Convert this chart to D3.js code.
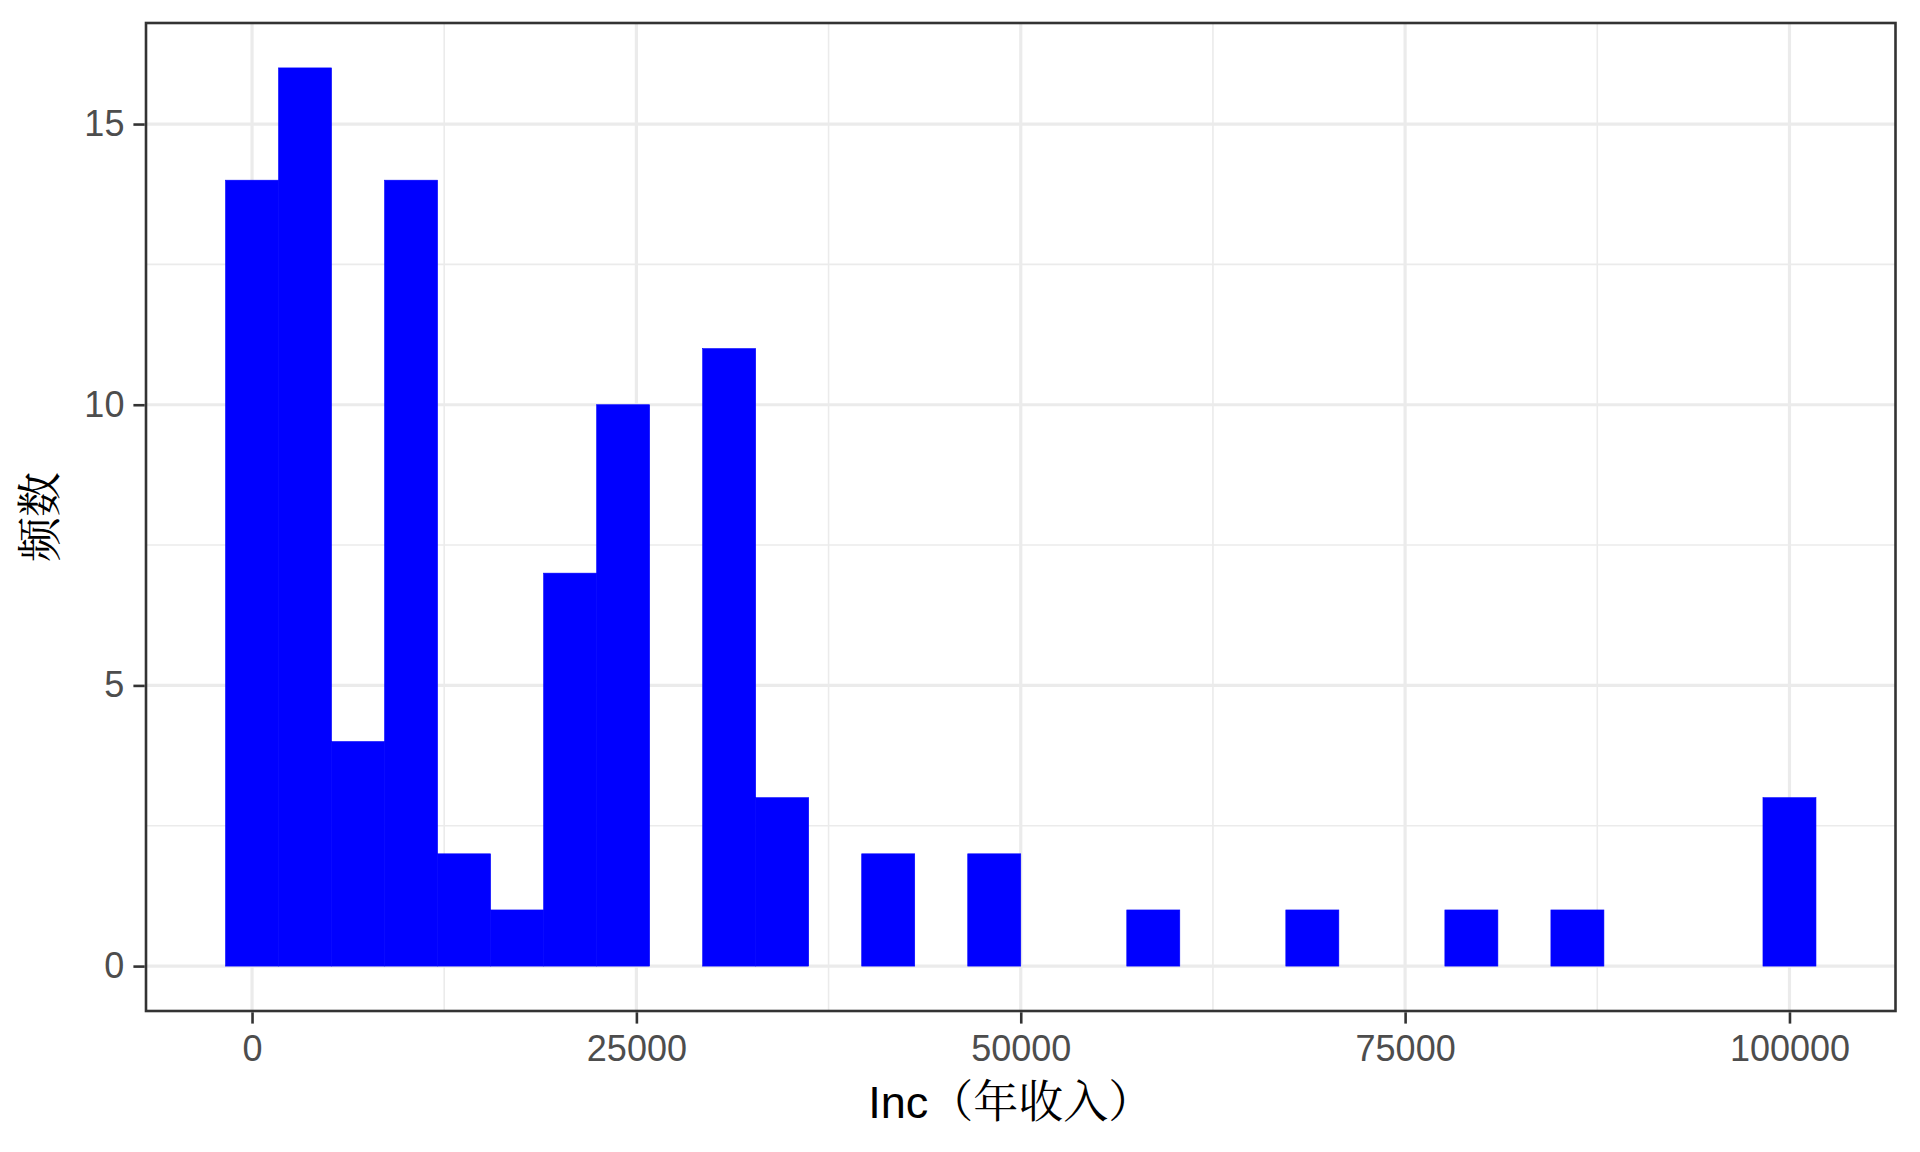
<!DOCTYPE html>
<html>
<head>
<meta charset="utf-8">
<script src="https://cdn.jsdelivr.net/npm/d3@7/dist/d3.min.js"></script>
<style>
  html, body { margin: 0; padding: 0; background: #fff; }
  svg { display: block; }
</style>
</head>
<body>
<svg id="chart" width="1920" height="1152"></svg>
<script>
// ---- data ----
const binMin = 0;          // centre of first bin
const binMax = 100000;     // centre of last bin
const counts = [14, 16, 4, 14, 2, 1, 7, 10, 0, 11, 3, 0, 2, 0, 2, 0, 0, 1, 0, 0, 1, 0, 0, 1, 0, 1, 0, 0, 0, 3];
const xTicks = [0, 25000, 50000, 75000, 100000];
const xMinor = [12500, 37500, 62500, 87500];
const yTicks = [0, 5, 10, 15];
const yMinor = [2.5, 7.5, 12.5];
const xTitle = "Inc（年收入）";
const yTitle = "频数";

// ---- layout ----
const W = 1920, H = 1152;
const panel = { left: 146, right: 1895.5, top: 23, bottom: 1011 };

const nb = counts.length;
const bw = (binMax - binMin) / (nb - 1);
const bins = counts.map((c, i) => ({ x0: binMin - bw / 2 + i * bw, x1: binMin + bw / 2 + i * bw, n: c }));

const xlo = bins[0].x0, xhi = bins[nb - 1].x1;
const xexp = (xhi - xlo) * 0.05;
const x = d3.scaleLinear().domain([xlo - xexp, xhi + xexp]).range([panel.left, panel.right]);
const ymax = d3.max(counts);
const yexp = ymax * 0.05;
const y = d3.scaleLinear().domain([-yexp, ymax + yexp]).range([panel.bottom, panel.top]);

const svg = d3.select("#chart");
svg.append("rect").attr("width", W).attr("height", H).attr("fill", "#fff");

const g = svg.append("g");
// minor grid
g.selectAll(".xm").data(xMinor).join("line")
  .attr("x1", d => x(d)).attr("x2", d => x(d)).attr("y1", panel.top).attr("y2", panel.bottom)
  .attr("stroke", "#EBEBEB").attr("stroke-width", 1.6);
g.selectAll(".ym").data(yMinor).join("line")
  .attr("y1", d => y(d)).attr("y2", d => y(d)).attr("x1", panel.left).attr("x2", panel.right)
  .attr("stroke", "#EBEBEB").attr("stroke-width", 1.6);
// major grid
g.selectAll(".xM").data(xTicks).join("line")
  .attr("x1", d => x(d)).attr("x2", d => x(d)).attr("y1", panel.top).attr("y2", panel.bottom)
  .attr("stroke", "#EBEBEB").attr("stroke-width", 3.2);
g.selectAll(".yM").data(yTicks).join("line")
  .attr("y1", d => y(d)).attr("y2", d => y(d)).attr("x1", panel.left).attr("x2", panel.right)
  .attr("stroke", "#EBEBEB").attr("stroke-width", 3.2);

// bars
g.selectAll(".bar").data(bins.filter(b => b.n > 0)).join("rect")
  .attr("x", d => x(d.x0)).attr("width", d => x(d.x1) - x(d.x0))
  .attr("y", d => y(d.n)).attr("height", d => y(0) - y(d.n))
  .attr("fill", "#0000FF").attr("stroke", "#0000FF").attr("stroke-width", 0.6);

// panel border
svg.append("rect")
  .attr("x", panel.left).attr("y", panel.top)
  .attr("width", panel.right - panel.left).attr("height", panel.bottom - panel.top)
  .attr("fill", "none").attr("stroke", "#333333").attr("stroke-width", 2.6);

// axes
const xAxis = d3.axisBottom(x).tickValues(xTicks).tickFormat(d3.format("d")).tickSize(11.3).tickPadding(12);
const yAxis = d3.axisLeft(y).tickValues(yTicks).tickFormat(d3.format("d")).tickSize(11.3).tickPadding(9);

const gx = svg.append("g").attr("transform", `translate(0,${panel.bottom + 1.3})`).call(xAxis);
const gy = svg.append("g").attr("transform", `translate(${panel.left - 1.3},0)`).call(yAxis);
[gx, gy].forEach(a => {
  a.select(".domain").remove();
  a.selectAll(".tick line").attr("stroke", "#333333").attr("stroke-width", 2.6);
  a.selectAll(".tick text").attr("fill", "#4D4D4D")
    .style("font-family", "'Liberation Sans', Arial, sans-serif").style("font-size", "36px");
});

// titles
svg.append("text")
  .attr("x", (panel.left + panel.right) / 2 - 10).attr("y", 1118)
  .attr("text-anchor", "middle")
  .style("font-family", "'Liberation Sans', Arial, 'Noto Serif CJK SC', 'Noto Sans CJK SC', sans-serif")
  .style("font-size", "45px").attr("fill", "#000")
  .text(xTitle);

svg.append("text")
  .attr("transform", `translate(56,${(panel.top + panel.bottom) / 2}) rotate(-90)`)
  .attr("text-anchor", "middle")
  .style("font-family", "'Noto Serif CJK SC', 'Noto Sans CJK SC', sans-serif")
  .style("font-size", "45px").attr("fill", "#000")
  .text(yTitle);
</script>
</body>
</html>
